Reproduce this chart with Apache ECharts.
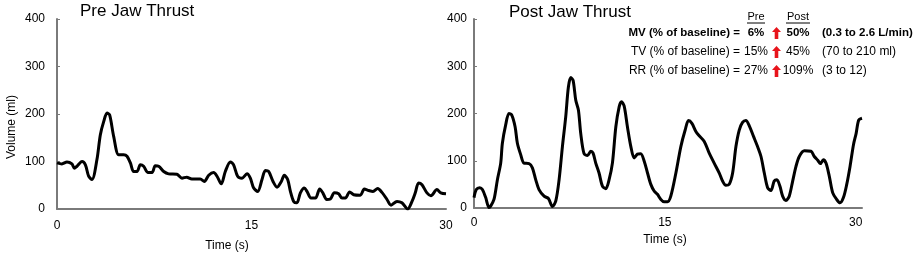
<!DOCTYPE html>
<html><head><meta charset="utf-8">
<script src="https://cdn.jsdelivr.net/npm/echarts@6/dist/echarts.min.js"></script>
<style>html,body{margin:0;padding:0;background:#fff}#c{width:916px;height:256px}</style>
</head><body><div id="c"></div>
<script>
const preTitle = 'Pre Jaw Thrust';
const postTitle = 'Post Jaw Thrust';
const xTicks = [0, 15, 30];
const yTicks = [0, 100, 200, 300, 400];
const tPre = [0,0.38,0.77,1.15,1.34,1.54,1.93,2.19,2.44,2.70,3.08,3.34,3.60,3.86,4.06,4.37,4.76,5.14,5.40,5.66,5.91,6.17,6.43,6.68,7.0,7.33,7.58,7.84,8.23,8.61,9.25,9.64,10.0,10.4,11.05,11.36,11.7,12.08,12.34,12.67,12.98,13.37,13.62,13.93,14.27,14.65,14.91,15.17,15.48,15.81,16.07,16.32,16.66,16.97,17.3,17.53,17.79,18.0,18.25,18.5,18.77,19.07,19.28,19.59,19.93,20.26,20.5,20.8,21.08,21.39,21.72,21.98,22.24,22.57,22.88,23.39,23.7,24.04,24.37,24.73,25.06,25.45,25.76,26.22,26.6,27.04,27.38,27.63,27.89,28.15,28.53,28.84,29.3,29.6,30];
const vPre = [97,95,99,95,86,90,100,93,69,62,104,156,184,202,198,153,114,114,111,97,79,79,93,90,77,77,91,90,79,74,73,65,67,63,63,58,71,77,69,53,79,99,93,69,65,74,65,44,37,62,81,79,58,46,58,71,62,37,16,13,34,44,37,23,23,42,34,20,21,34,32,23,23,36,30,29,42,39,37,43,35,20,8,16,13,0,16,34,55,51,34,28,41,34,32];
const tPost = [0,0.18,0.45,0.66,0.92,1.18,1.31,1.57,1.84,2.1,2.23,2.49,2.75,2.96,3.23,3.41,3.67,3.93,4.33,4.59,4.85,5.11,5.51,5.85,6.16,6.43,6.69,6.95,7.21,7.42,7.61,7.79,8.0,8.21,8.39,8.65,8.92,9.18,9.36,9.57,9.83,10.1,10.36,10.62,10.88,11.15,11.41,11.59,11.8,12.06,12.33,12.59,12.85,13.11,13.38,13.64,13.9,14.16,14.42,14.69,14.95,15.21,15.47,15.87,16.26,16.6,16.86,17.13,17.44,17.7,18.1,18.49,18.88,19.28,19.54,19.8,20.06,20.33,20.59,20.85,21.11,21.37,21.64,21.98,22.29,22.56,22.82,23.08,23.34,23.6,23.81,24.05,24.26,24.52,24.78,25.05,25.31,25.57,25.97,26.49,26.75,27.02,27.23,27.46,27.67,27.93,28.2,28.51,28.77,29.04,29.3,29.56,29.83,30.04,30.24,30.5];
const vPost = [22,39,43,39,22,1,4,18,60,95,137,176,200,197,172,137,113,95,94,85,60,39,25,20,3,15,60,130,193,256,276,270,228,207,158,115,111,120,116,95,74,46,41,60,95,172,214,225,216,172,130,106,114,115,99,74,50,36,29,18,13,13,25,74,130,165,185,179,162,153,141,116,95,74,57,48,50,74,130,165,181,185,174,151,130,109,74,43,37,57,60,46,25,16,25,57,88,109,121,120,109,101,94,102,95,67,32,18,11,22,50,88,134,158,186,190];
const statRows = ['MV (% of baseline) =', 'TV (% of baseline) =', 'RR (% of baseline) ='];
const statPre = ['6%', '15%', '27%'];
const statPost = ['50%', '45%', '109%'];
const statRange = ['(0.3 to 2.6 L/min)', '(70 to 210 ml)', '(3 to 12)'];

const FF = "'Liberation Sans', Arial, sans-serif";
const chart = echarts.init(document.getElementById('c'), null, {renderer: 'canvas'});

function xAxis(gi, max, hideMax, margin) {
  return {
    type: 'value', gridIndex: gi, min: 0, max: max, interval: 15,
    axisLine: {show: true, lineStyle: {color: '#7a7a7a', width: 2}},
    axisTick: {show: false},
    splitLine: {show: false},
    axisLabel: {color: '#000', fontFamily: FF, fontSize: 12, margin: margin,
      showMaxLabel: !hideMax,
      formatter: v => xTicks.includes(v) ? String(v) : ''}
  };
}
function yAxis(gi, margin) {
  return {
    type: 'value', gridIndex: gi, min: 0, max: 400, interval: 100,
    axisLine: {show: true, lineStyle: {color: '#7a7a7a', width: 2}},
    axisTick: {show: true, inside: true, length: 3, lineStyle: {color: '#7a7a7a', width: 1}},
    splitLine: {show: false},
    axisLabel: {color: '#000', fontFamily: FF, fontSize: 12, margin: margin,
      formatter: v => yTicks.includes(v) ? String(v) : ''}
  };
}
const lineStyle = {color: '#000', width: 3};
const graphics = [
  {type: 'text', left: 80, top: 3, style: {text: preTitle, font: '17px ' + FF, fill: '#000'}},
  {type: 'text', left: 509, top: 4, style: {text: postTitle, font: '17px ' + FF, fill: '#000'}},
  {type: 'text', x: 12, y: 127, rotation: Math.PI / 2, style: {text: 'Volume (ml)', font: '12px ' + FF, fill: '#000', align: 'center', verticalAlign: 'middle'}},
  {type: 'text', x: 227, y: 246, style: {text: 'Time (s)', font: '12px ' + FF, fill: '#000', align: 'center', verticalAlign: 'middle'}},
  {type: 'text', x: 665, y: 240, style: {text: 'Time (s)', font: '12px ' + FF, fill: '#000', align: 'center', verticalAlign: 'middle'}},
  {type: 'text', x: 756, y: 17, style: {text: 'Pre', font: '11px ' + FF, fill: '#000', align: 'center', verticalAlign: 'middle'}},
  {type: 'text', x: 798, y: 17, style: {text: 'Post', font: '11px ' + FF, fill: '#000', align: 'center', verticalAlign: 'middle'}},
  {type: 'line', shape: {x1: 747, y1: 23, x2: 765, y2: 23}, style: {stroke: '#000', lineWidth: 1}},
  {type: 'line', shape: {x1: 786, y1: 23, x2: 810, y2: 23}, style: {stroke: '#000', lineWidth: 1}}
];
const rowY = [33, 52, 71];
statRows.forEach((lab, i) => {
  const bold = i === 0;
  const f = (bold ? 'bold 11.5px ' : '12px ') + FF;
  const y = rowY[i];
  graphics.push({type: 'text', x: 740, y: y, style: {text: lab, font: f, fill: '#000', align: 'right', verticalAlign: 'middle'}});
  graphics.push({type: 'text', x: 756, y: y, style: {text: statPre[i], font: f, fill: '#000', align: 'center', verticalAlign: 'middle'}});
  graphics.push({type: 'text', x: 798, y: y, style: {text: statPost[i], font: f, fill: '#000', align: 'center', verticalAlign: 'middle'}});
  graphics.push({type: 'text', x: 822, y: y, style: {text: statRange[i], font: f, fill: '#000', align: 'left', verticalAlign: 'middle'}});
  graphics.push({type: 'polygon', shape: {points: [[776.5, y - 6], [781, y - 1], [778.3, y - 1], [778.3, y + 6], [774.7, y + 6], [774.7, y - 1], [772, y - 1]]}, style: {fill: '#e8141b'}});
});

chart.setOption({
  animation: false,
  backgroundColor: '#fff',
  grid: [
    {left: 57, top: 19, width: 389, height: 190},
    {left: 474, top: 19, width: 388, height: 189}
  ],
  xAxis: [xAxis(0, 30, false, 11), xAxis(1, 30.5, true, 9)],
  yAxis: [yAxis(0, 12), yAxis(1, 7)],
  series: [
    {type: 'line', xAxisIndex: 0, yAxisIndex: 0, data: tPre.map((t, i) => [t, vPre[i]]), smooth: 0.3, showSymbol: false, lineStyle: lineStyle},
    {type: 'line', xAxisIndex: 1, yAxisIndex: 1, data: tPost.map((t, i) => [t, vPost[i]]), smooth: 0.3, showSymbol: false, lineStyle: lineStyle}
  ],
  graphic: graphics
});
</script></body></html>
